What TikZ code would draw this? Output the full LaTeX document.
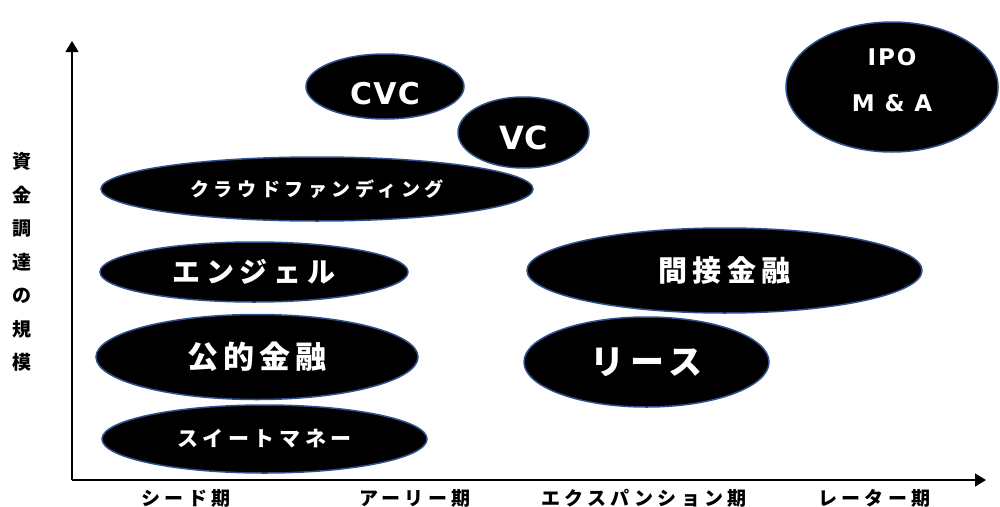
\documentclass[tikz,border=0pt]{standalone}
\usepackage{fontspec}
\newfontfamily\jp{Noto Sans CJK JP}
\newfontfamily\lat{DejaVu Sans}
\usetikzlibrary{shapes.geometric,arrows.meta}
\definecolor{edgeblue}{HTML}{2F528F}
\begin{document}
\begin{tikzpicture}[x=1pt,y=-1pt,
  blob/.style={ellipse, fill=black, draw=edgeblue, line width=1.5pt, inner sep=0pt, text=white},
  fs/.style 2 args={font={\jp\bfseries\fontsize{#1}{#1}\selectfont\addfontfeature{LetterSpace=#2}}},
  ls/.style 2 args={font={\lat\bfseries\fontsize{#1}{#1}\selectfont\addfontfeature{LetterSpace=#2}}},
  axislbl/.style={fs={19}{22}, text=black, inner sep=0pt},
  axisline/.style={line width=1.2pt, -{Triangle[length=11pt,width=13pt]}}]
\useasboundingbox (0,0) rectangle (1000,506);
\fill[white] (0,0) rectangle (1000,506);
% axes
\coordinate (O) at (72,480);
\coordinate (Ytop) at (72,41);
\coordinate (Xend) at (986,480);
\draw[axisline] (O) -- (Ytop);
\draw[axisline] (O) -- (Xend);
% y label
\node[font={\jp\bfseries\fontsize{19}{33.5}\selectfont}, align=center, inner sep=0pt] (ylab) at (22,262) {資\\金\\調\\達\\の\\規\\模};
% x labels
\node[axislbl] (seed) at (186,498) {シード期};
\node[axislbl] (early) at (415,498) {アーリー期};
\node[axislbl] (exp) at (644,498) {エクスパンション期};
\node[axislbl] (later) at (874.5,498) {レーター期};
% ellipses
\node[blob, minimum width=158pt, minimum height=65pt, ls={30}{4}] (cvc) at (385,86.5) {\raisebox{-7pt}[\height][\depth]{CVC}};
\node[blob, minimum width=131pt, minimum height=71pt, ls={32}{1}] (vc) at (523.5,132.5) {\raisebox{-5pt}[\height][\depth]{VC}};
\node[blob, minimum width=212pt, minimum height=130pt, ls={23}{8}] (ipo) at (892,87) {\raisebox{4pt}[\height][\depth]{\begin{tabular}{@{}c@{}}IPO\\[22pt]M \& A\end{tabular}}};
\node[blob, minimum width=432pt, minimum height=64pt, fs={19}{24}] (crowd) at (317,189) {クラウドファンディング};
\node[blob, minimum width=308pt, minimum height=60pt, fs={28}{21}] (angel) at (254,272) {エンジェル};
\node[blob, minimum width=322pt, minimum height=85pt, fs={31}{16}] (public) at (257,357) {公的金融};
\node[blob, minimum width=325pt, minimum height=68pt, fs={21}{22}] (sweet) at (264.5,439) {スイートマネー};
\node[blob, minimum width=395pt, minimum height=85pt, fs={29}{19}] (indirect) at (724.5,270.5) {間接金融};
\node[blob, minimum width=245pt, minimum height=90pt, fs={34}{18}] (lease) at (646.5,362) {リース};
\end{tikzpicture}
\end{document}
